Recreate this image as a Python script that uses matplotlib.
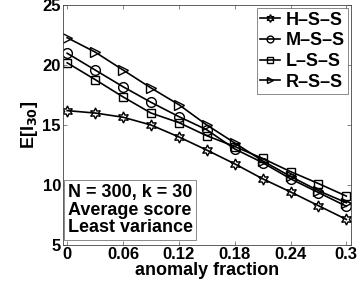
import numpy as np
import matplotlib
matplotlib.use("Agg")
import matplotlib.pyplot as plt

plt.rcParams['font.family'] = ['Liberation Sans', 'DejaVu Sans']
plt.rcParams['font.weight'] = 'bold'

# anomaly fraction
frac = [0, 0.03, 0.06, 0.09, 0.12, 0.15, 0.18, 0.21, 0.24, 0.27, 0.30]

hss = [16.2, 16.0, 15.65, 15.0, 14.0, 12.9, 11.75, 10.5, 9.4, 8.25, 7.1]
mss = [21.0, 19.6, 18.2, 16.9, 15.7, 14.6, 13.0, 11.85, 10.5, 9.35, 8.2]
lss = [20.2, 18.8, 17.35, 16.0, 15.2, 14.1, 13.2, 12.2, 11.1, 10.1, 9.05]
rss = [22.3, 21.1, 19.6, 18.1, 16.7, 15.0, 13.5, 12.0, 10.7, 9.5, 8.5]

series = [
    ("H\u2013S\u2013S", hss, (6, 1, 0), 8),
    ("M\u2013S\u2013S", mss, "o", 7),
    ("L\u2013S\u2013S", lss, "s", 6),
    ("R\u2013S\u2013S", rss, ">", 7),
]

xticks = [0, 0.06, 0.12, 0.18, 0.24, 0.3]
xticklabels = ["0", "0.06", "0.12", "0.18", "0.24", "0.3"]
yticks = [5, 10, 15, 20, 25]

fig = plt.figure(figsize=(3.6, 2.86), dpi=100)
ax = fig.add_axes([0.175, 0.145, 0.8, 0.836])

for name, vals, mk, ms in series:
    ax.plot(frac, vals, color='black', lw=1.2, marker=mk, ms=ms,
            mfc='none', mec='black', mew=1.0, label=name)

ax.set_xlim(-0.0045, 0.305)
ax.set_ylim(5, 25)
ax.set_xticks(xticks)
ax.set_xticklabels(xticklabels)
ax.set_yticks(yticks)
ax.tick_params(direction='in', top=True, right=True, length=3, width=0.5,
               labelsize=12, pad=1.5, color='#555555')
for s in ax.spines.values():
    s.set_linewidth(0.6)
    s.set_color('#444444')

ax.set_xlabel("anomaly fraction", fontsize=13, fontweight='bold', labelpad=0)
ax.set_ylabel(r"E[I$_{\mathbf{30}}$]", fontsize=13, fontweight='bold', labelpad=2)

leg = ax.legend(loc='upper right', fontsize=13, frameon=True, fancybox=False,
                borderaxespad=0.15, borderpad=0.2, handlelength=1.1,
                handletextpad=0.3, labelspacing=0.2, markerscale=0.7)
leg.get_frame().set_edgecolor('#555555')
leg.get_frame().set_linewidth(0.6)

ax.text(0.016, 0.035, "N = 300, k = 30\nAverage score\nLeast variance",
        transform=ax.transAxes, fontsize=13, fontweight='bold',
        va='bottom', ha='left', linespacing=1.05,
        bbox=dict(boxstyle='square,pad=0.2', fc='white', ec='#777777', lw=0.6))

fig.savefig("out.png", dpi=100)
